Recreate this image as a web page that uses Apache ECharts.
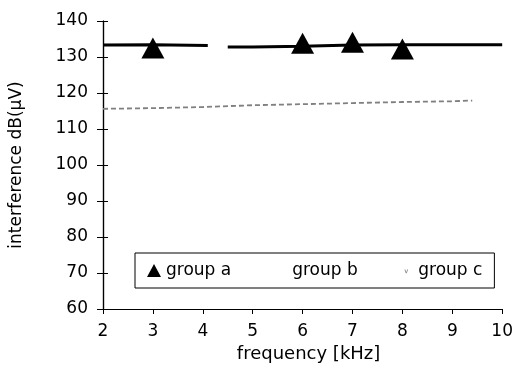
<!DOCTYPE html>
<html>
<head>
<meta charset="utf-8">
<script src="https://cdn.jsdelivr.net/npm/echarts@6/dist/echarts.min.js"></script>
<style>
  html, body { margin: 0; padding: 0; background: #fff; }
  #chart { width: 516px; height: 370px; }
</style>
</head>
<body>
<div id="chart"></div>
<script>
// values
var groups = ['group a', 'group b', 'group c'];

var aMarkFreq = [3, 6, 7, 8];
var aMarkLevel = [132.5, 133.8, 134.1, 132.2];

var aLineFreq = [2, 3, 4.1, 4.3, 4.5, 5, 6, 7, 8, 9, 10];
var aLineLevel = [133.3, 133.4, 133.2, '-', 132.8, 132.8, 133.0, 133.3, 133.4, 133.4, 133.4];

var cFreq = [2, 3, 4, 5, 6, 7, 8, 9, 9.4];
var cLevel = [115.6, 115.8, 116.1, 116.6, 116.9, 117.2, 117.5, 117.7, 117.9];

var yTicks = [60, 70, 80, 90, 100, 110, 120, 130, 140];

function pairs(xs, ys) {
  return xs.map(function (x, i) { return [x, ys[i]]; });
}

var font = 'DejaVu Sans';
var chart = echarts.init(document.getElementById('chart'));

chart.setOption({
  animation: false,
  backgroundColor: '#fff',
  textStyle: { fontFamily: font, color: '#000' },
  grid: { left: 103, right: 11, top: 21, bottom: 61 },
  legend: {
    left: 135,
    top: 253,
    padding: [9, 12],
    itemGap: 42,
    itemWidth: 14,
    itemHeight: 13,
    borderColor: '#000',
    borderWidth: 1,
    backgroundColor: '#fff',
    textStyle: { fontFamily: font, fontSize: 17, color: '#000' },
    data: [
      { name: groups[0], icon: 'triangle', itemStyle: { color: '#000', opacity: 1 } },
      { name: groups[1], icon: 'rect', itemStyle: { color: '#fff' } },
      { name: groups[2], icon: 'path://M0 0L0.01 0M14 14L14.01 14M5 6L6 6L7 9L8 6L9 6L7.5 10L6.5 10Z', itemStyle: { color: '#888' } }
    ]
  },
  xAxis: {
    type: 'value',
    min: 2,
    max: 10,
    interval: 1,
    name: 'frequency [kHz]',
    nameLocation: 'middle',
    nameGap: 36,
    nameTextStyle: { fontFamily: font, fontSize: 18, color: '#000', padding: [0, 0, 0, 12] },
    splitLine: { show: false },
    axisLine: { lineStyle: { color: '#000', width: 1.2 } },
    axisTick: { length: 5, lineStyle: { color: '#000' } },
    axisLabel: { margin: 14, fontSize: 17, color: '#000', fontFamily: font }
  },
  yAxis: [
    {
      type: 'value',
      min: 60,
      max: 140,
      interval: 10,
      name: 'interference dB(µV)',
      nameLocation: 'middle',
      nameGap: 78,
      nameTextStyle: { fontFamily: font, fontSize: 17, color: '#000' },
      splitLine: { show: false },
      axisLine: { show: true, lineStyle: { color: '#000', width: 1.2 } },
      axisTick: { show: true, length: 6, lineStyle: { color: '#000' } },
      axisLabel: {
        margin: 15,
        fontSize: 17,
        color: '#000',
        fontFamily: font,
        formatter: function (v) { return yTicks.indexOf(v) >= 0 ? String(v) : ''; }
      }
    },
    {
      // inner half of the cross-shaped ticks: a right axis pulled onto the left edge
      type: 'value',
      position: 'right',
      offset: -402,
      min: 60,
      max: 140,
      interval: 10,
      splitLine: { show: false },
      axisLine: { show: true, lineStyle: { color: '#000', width: 1.2 } },
      axisTick: { show: true, length: 5, lineStyle: { color: '#000' } },
      axisLabel: { show: false }
    }
  ],
  series: [
    {
      name: groups[0],
      type: 'scatter',
      symbol: 'triangle',
      symbolSize: [23, 21],
      itemStyle: { color: '#000', opacity: 1 },
      z: 4,
      data: pairs(aMarkFreq, aMarkLevel)
    },
    {
      name: groups[0],
      type: 'line',
      symbol: 'none',
      lineStyle: { color: '#000', width: 3 },
      z: 3,
      data: pairs(aLineFreq, aLineLevel)
    },
    {
      name: groups[1],
      type: 'line',
      symbol: 'none',
      itemStyle: { color: '#fff' },
      lineStyle: { color: '#fff' },
      data: []
    },
    {
      name: groups[2],
      type: 'line',
      symbol: 'none',
      itemStyle: { color: '#888' },
      lineStyle: { color: '#808080', width: 1.8, type: [5, 3] },
      data: pairs(cFreq, cLevel)
    }
  ]
});

// the real plot width, so the helper axis sits exactly on the left one
var plotW = chart.convertToPixel({ xAxisIndex: 0 }, 10) - chart.convertToPixel({ xAxisIndex: 0 }, 2);
chart.setOption({ yAxis: [{}, { offset: -plotW }] });
</script>
</body>
</html>
